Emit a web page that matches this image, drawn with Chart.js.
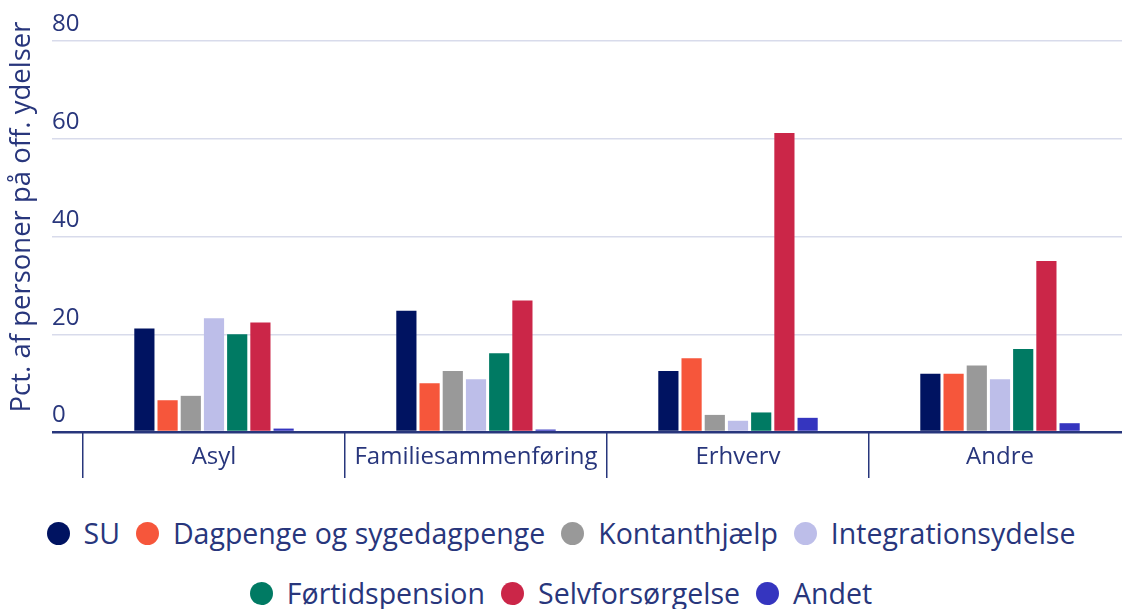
<!DOCTYPE html>
<html>
<head>
<meta charset="utf-8">
<script src="https://cdn.jsdelivr.net/npm/chart.js@4.4.1/dist/chart.umd.min.js"></script>
<style>
  html, body { margin: 0; padding: 0; background: #fff; }
  body { width: 1122px; height: 609px; overflow: hidden; position: relative; font-family: 'Open Sans', sans-serif; }
  #wrap { position: absolute; left: 0; top: 0; width: 1131px; height: 490px; }
  .legend-row { position: absolute; left: 0; width: 1122px; height: 40px; display: flex; justify-content: center; align-items: center; }
  .item { display: flex; align-items: center; margin: 0 8px; font-size: 28.5px; color: #28367c; white-space: nowrap; }
  .dot { width: 23px; height: 23px; border-radius: 50%; margin-right: 14px; }
</style>
</head>
<body>
<div id="wrap"><canvas id="chart" width="1131" height="490"></canvas></div>
<div id="legend1" class="legend-row" style="top:513px"></div>
<div id="legend2" class="legend-row" style="top:573px"></div>
<script>
const categories = ['Asyl', 'Familiesammenføring', 'Erhverv', 'Andre'];
const seriesNames = ['SU', 'Dagpenge og sygedagpenge', 'Kontanthjælp', 'Integrationsydelse',
    'Førtidspension', 'Selvforsørgelse', 'Andet'];

const su = [21.2, 24.8, 12.5, 11.9];
const dagpenge = [6.5, 10.0, 15.1, 11.9];
const kontanthjaelp = [7.4, 12.5, 3.5, 13.6];
const integrationsydelse = [23.3, 10.8, 2.3, 10.8];
const fortidspension = [20.0, 16.1, 4.0, 17.0];
const selvforsorgelse = [22.4, 26.9, 61.2, 35.0];
const andet = [0.7, 0.5, 2.9, 1.8];

const yTicks = [0, 20, 40, 60, 80];

const seriesValues = [su, dagpenge, kontanthjaelp, integrationsydelse, fortidspension, selvforsorgelse, andet];
const colors = ['#001361', '#f6563b', '#999999', '#bdbee9', '#007a63', '#cb2648', '#3535bf'];

const navy = '#28367c';
const gridColor = '#d8dbeb';

const datasets = seriesNames.map((name, i) => ({
    label: name,
    data: seriesValues[i],
    backgroundColor: colors[i],
    categoryPercentage: 0.62,
    barPercentage: 0.87
}));

new Chart(document.getElementById('chart'), {
    type: 'bar',
    data: { labels: categories, datasets: datasets },
    options: {
        responsive: false,
        animation: false,
        devicePixelRatio: 1,
        layout: { padding: { top: 2, left: 0, right: 0, bottom: 0 } },
        plugins: {
            legend: { display: false },
            tooltip: { enabled: false }
        },
        scales: {
            x: {
                grid: {
                    offset: true,
                    drawOnChartArea: false,
                    drawTicks: true,
                    tickLength: 46,
                    color: navy,
                    lineWidth: 1.5
                },
                border: { display: false },
                ticks: {
                    color: navy,
                    font: { family: 'Open Sans', size: 24 },
                    padding: -35
                },
                afterFit: scale => { scale.height = 58; }
            },
            y: {
                min: 0,
                max: 88,
                afterBuildTicks: scale => {
                    scale.ticks = yTicks.map(v => ({ value: v }));
                },
                grid: {
                    color: c => c.tick && c.tick.value === 0 ? navy : gridColor,
                    tickColor: c => c.tick && c.tick.value === 0 ? navy : gridColor,
                    lineWidth: c => c.tick && c.tick.value === 0 ? 2.5 : 1.5,
                    drawTicks: true,
                    tickLength: 31
                },
                border: { display: false },
                ticks: {
                    mirror: true,
                    padding: -31,
                    labelOffset: -16.5,
                    color: navy,
                    font: { family: 'Open Sans', size: 24 }
                },
                title: {
                    display: true,
                    text: 'Pct. af personer på off. ydelser',
                    color: navy,
                    font: { family: 'Open Sans', size: 27.5 },
                    padding: { top: 6, bottom: 0 }
                },
                afterFit: scale => { scale.width = 83; }
            }
        }
    }
});

// legend in two rows, as in the original
const rows = [[0, 1, 2, 3], [4, 5, 6]];
rows.forEach((idx, r) => {
    const el = document.getElementById('legend' + (r + 1));
    idx.forEach(i => {
        const item = document.createElement('div');
        item.className = 'item';
        item.innerHTML = '<span class="dot" style="background:' + colors[i] + '"></span>' + seriesNames[i];
        el.appendChild(item);
    });
});
</script>
</body>
</html>
